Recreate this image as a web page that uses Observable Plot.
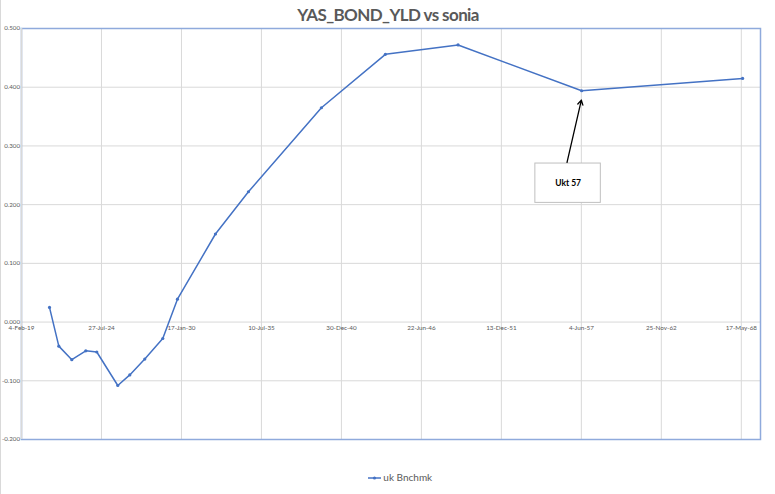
<!DOCTYPE html>
<html>
<head>
<meta charset="utf-8">
<script src="https://cdn.jsdelivr.net/npm/d3@7"></script>
<script src="https://cdn.jsdelivr.net/npm/@observablehq/plot@0.6"></script>
<style>
  html, body { margin: 0; padding: 0; background: #fff; }
  #wrap { position: relative; width: 775px; height: 494px; overflow: hidden; font-family: Lato, "Open Sans", sans-serif; }
  #title { position: absolute; left: 0; width: 776px; top: 4px; text-align: center; font-size: 17px; letter-spacing: -0.6px; font-weight: bold; color: #595959; }
  #legend { position: absolute; left: 0; width: 800px; top: 471px; text-align: center; font-size: 10px; color: #595959; }
  #legend svg { vertical-align: middle; }
  #edge { position: absolute; left: 0px; top: 0; width: 1px; height: 494px; background: #d9d9d9; }
</style>
</head>
<body>
<div id="wrap">
  <div id="chart"></div>
  <div id="edge"></div>
  <div id="title">YAS_BOND_YLD vs sonia</div>
  <div id="legend"><svg width="13" height="6"><line x1="0" y1="3" x2="13" y2="3" stroke="#4472C4" stroke-width="1.5"/><circle cx="6.5" cy="3" r="1.6" fill="#4472C4"/></svg> uk Bnchmk</div>
</div>
<script>
// Series: maturity dates and yields
const maturities = ["2021-01-04","2021-08-25","2022-07-16","2023-07-01","2024-04-01","2025-09-08","2026-07-05","2027-07-15","2028-10-07","2029-10-09","2032-05-16","2034-08-19","2039-08-18","2044-01-04","2048-12-25","2057-06-12","2068-06-19"];
const yields = [0.025, -0.041, -0.064, -0.049, -0.051, -0.108, -0.090, -0.063, -0.028, 0.039, 0.150, 0.222, 0.365, 0.456, 0.472, 0.394, 0.415];

// X axis ticks (every 2000 days) and their labels
const xTickDates = ["2019-02-04","2024-07-27","2030-01-17","2035-07-10","2040-12-30","2046-06-22","2051-12-13","2057-06-04","2062-11-25","2068-05-17"];
const xTickLabels = ["4-Feb-19","27-Jul-24","17-Jan-30","10-Jul-35","30-Dec-40","22-Jun-46","13-Dec-51","4-Jun-57","25-Nov-62","17-May-68"];
const xDomain = ["2019-02-04","2069-09-09"];

// Y axis ticks
const yTicks = [-0.2, -0.1, 0, 0.1, 0.2, 0.3, 0.4, 0.5];
const yDomain = [-0.2, 0.5];

// Annotation
const annLabel = ["Ukt 57"];
const annBoxX = ["2054-04-11","2058-10-04"];
const annBoxY = [0.203, 0.270];
const annArrowFrom = ["2056-06-11", 0.272];
const annArrowTo = ["2057-06-04", 0.378];

const P = s => new Date(s + "T00:00:00Z");
const data = maturities.map((m, i) => ({date: P(m), y: yields[i]}));
const ticks = xTickDates.map((d, i) => ({date: P(d), label: xTickLabels[i]}));

const grey = "#d9d9d9", blue = "#8FAADC", text = "#595959";

const chart = Plot.plot({
  width: 775,
  height: 494,
  marginLeft: 21,
  marginRight: 15,
  marginTop: 28,
  marginBottom: 55,
  style: {fontFamily: "Lato, 'Open Sans', sans-serif", background: "white"},
  x: {type: "utc", domain: xDomain.map(P), axis: null},
  y: {domain: yDomain, axis: null},
  marks: [
    Plot.ruleY(yTicks.filter(v => v > yDomain[0] && v < yDomain[1]), {stroke: grey, strokeWidth: 1}),
    Plot.ruleX(ticks.slice(1), {x: "date", stroke: grey, strokeWidth: 1}),
    Plot.frame({stroke: blue, strokeWidth: 1.5}),
    Plot.ruleX([P(xDomain[0])], {stroke: grey, strokeWidth: 1.5}),
    Plot.axisY(yTicks, {tickSize: 0, tickPadding: 1.5, fontSize: 6.2, fill: text, tickFormat: d => d.toFixed(3), label: null}),
    Plot.text(ticks, {x: "date", y: () => 0, text: "label", dy: 5.5, fontSize: 6.3, fill: text}),
    Plot.line(data, {x: "date", y: "y", stroke: "#4472C4", strokeWidth: 1.5}),
    Plot.dot(data, {x: "date", y: "y", r: 1.6, fill: "#4472C4"}),
    Plot.rect(annLabel, {x1: () => P(annBoxX[0]), x2: () => P(annBoxX[1]), y1: () => annBoxY[0], y2: () => annBoxY[1], fill: "white", stroke: "#bfbfbf", strokeWidth: 1}),
    Plot.text(annLabel, {x: () => new Date((P(annBoxX[0]).getTime() + P(annBoxX[1]).getTime()) / 2), y: () => (annBoxY[0] + annBoxY[1]) / 2, text: d => d, fontSize: 8.5, fontWeight: "bold", fill: "black"}),
    Plot.arrow(annLabel, {x1: () => P(annArrowFrom[0]), y1: () => annArrowFrom[1], x2: () => P(annArrowTo[0]), y2: () => annArrowTo[1], stroke: "black", strokeWidth: 1.3, headLength: 6, bend: 0})
  ]
});
document.getElementById("chart").appendChild(chart);
</script>
</body>
</html>
